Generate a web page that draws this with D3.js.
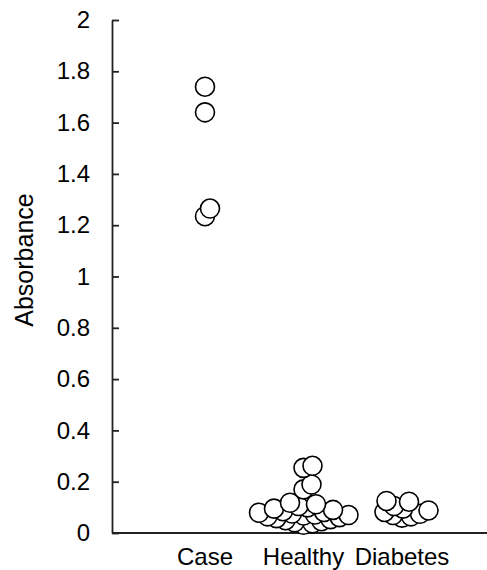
<!DOCTYPE html>
<html lang="en">
    <head>
        <meta charset="utf-8">
        <title>Absorbance by group</title>
        <script src="https://d3js.org/d3.v7.min.js"></script>
        <style type="text/css">
          body { margin: 0; background: #fff; }
          svg { width: 487px; height: 570px; display: block; }
          text { font-family: "Liberation Sans", Arial, sans-serif; fill: #000; }
        </style>
    </head>
    <body>
        <svg></svg>

        <script type="text/javascript">

        // values
        const categories = ["Case", "Healthy", "Diabetes"];
        const caseValues = [1.74, 1.64, 1.265, 1.235];
        const healthyValues = [0.262, 0.254, 0.189, 0.170, 0.118, 0.112, 0.105, 0.100,
                               0.095, 0.090, 0.085, 0.082, 0.079, 0.076, 0.072, 0.070,
                               0.068, 0.065, 0.062, 0.058, 0.054, 0.050, 0.046, 0.042,
                               0.038, 0.032];
        const diabetesValues = [0.125, 0.122, 0.105, 0.095, 0.088, 0.082, 0.075, 0.070, 0.065, 0.060];
        const yTicks = [0, 0.2, 0.4, 0.6, 0.8, 1, 1.2, 1.4, 1.6, 1.8, 2];
        const yTitle = "Absorbance";

        const groups = [caseValues, healthyValues, diabetesValues];

        const svg = d3.select("svg");
        const r = 9.5;
        const minDist = 9;

        const y = d3.scaleLinear().domain([0, 2]).range([533, 20]);
        const x = d3.scaleLinear().domain([0, categories.length - 1]).range([205, 402]);

        // y axis, ticks pointing inward
        const yAxis = svg.append("g")
            .attr("transform", "translate(112,0)")
            .call(d3.axisLeft(y)
                .tickValues(yTicks)
                .tickFormat(d => String(+d.toFixed(1)))
                .tickSizeInner(-7)
                .tickSizeOuter(0)
                .tickPadding(22));
        yAxis.selectAll("path, line").attr("stroke", "#222").attr("stroke-width", 1.8);
        yAxis.selectAll("text").attr("font-size", 24).attr("font-family", null).attr("fill", "#000");

        // x axis line only
        svg.append("line")
            .attr("x1", 112).attr("x2", 487)
            .attr("y1", y(0)).attr("y2", y(0))
            .attr("stroke", "#222").attr("stroke-width", 1.8);

        svg.selectAll(".cat")
            .data(categories)
            .enter()
            .append("text")
            .attr("class", "cat")
            .attr("x", (d, i) => x(i))
            .attr("y", 565)
            .attr("text-anchor", "middle")
            .attr("font-size", 24)
            .text(d => d);

        svg.append("text")
            .attr("transform", "translate(33,260) rotate(-90)")
            .attr("text-anchor", "middle")
            .attr("font-size", 25)
            .text(yTitle);

        // simple swarm: lowest values first, nearest free horizontal offset
        function swarm(values, cx) {
            const placed = [];
            values.slice().sort((a, b) => a - b).forEach(v => {
                const cy = y(v);
                let dx = 0;
                for (let k = 0; k < 200; k++) {
                    const cand = k === 0 ? 0 : (k % 2 ? 1 : -1) * Math.ceil(k / 2) * 0.5;
                    const ok = placed.every(p => Math.hypot(p.x - (cx + cand), p.y - cy) >= minDist);
                    if (ok) { dx = cand; break; }
                }
                placed.push({x: cx + dx, y: cy});
            });
            return placed;
        }

        groups.forEach((vals, i) => {
            svg.append("g")
                .selectAll("circle")
                .data(swarm(vals, x(i)))
                .enter()
                .append("circle")
                .attr("cx", d => d.x)
                .attr("cy", d => d.y)
                .attr("r", r)
                .attr("fill", "#fff")
                .attr("stroke", "#000")
                .attr("stroke-width", 1.6);
        });

        </script>
    </body>
</html>
